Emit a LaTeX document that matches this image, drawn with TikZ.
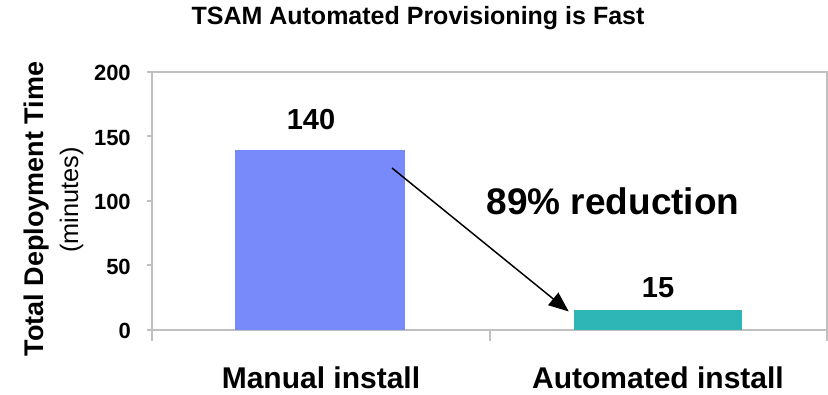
\documentclass[tikz,border=0pt]{standalone}
\usepackage{fontspec}
\setmainfont{Liberation Sans}
\usepackage{xcolor}
\usepackage{tikz}
\usetikzlibrary{arrows.meta,positioning}
\definecolor{manualblue}{RGB}{120,137,250}
\definecolor{autoteal}{RGB}{46,181,181}
\definecolor{axisgray}{RGB}{192,192,192}
\tikzset{
  axisline/.style={draw=axisgray, line width=1.5pt},
  bar/.style={rectangle, inner sep=0pt, anchor=south, draw=none},
  ticklabel/.style={anchor=east, inner sep=0pt, font=\fontsize{16.5pt}{18pt}\selectfont\bfseries},
  valuelabel/.style={anchor=base, inner sep=0pt, font=\fontsize{21.75pt}{24pt}\selectfont\bfseries},
  catlabel/.style={anchor=base, inner sep=0pt, font=\fontsize{22.5pt}{26pt}\selectfont\bfseries}
}
\begin{document}
\begin{tikzpicture}[x=0.75pt, y=-0.75pt]
        \useasboundingbox (0,0) rectangle (828,395);
        % Title
        \node[anchor=base, inner sep=0pt, font=\fontsize{18.75pt}{22pt}\selectfont\bfseries] (title) at (418,25) {TSAM Automated Provisioning is Fast};

        % Frame and axes
        \draw[axisline] (147,72) -- (827,72) -- (827,341);
        \draw[axisline] (152,72) -- (152,341);
        \draw[axisline] (147,330) -- (827,330);
        \foreach \v/\y in {0/330, 50/265.5, 100/201, 150/136.5, 200/72} {
            \draw[axisline] (147,\y) -- (152,\y);
            \node[ticklabel] (tick\v) at (131,\y+1) {\v};
        }
        \foreach \x in {152, 490, 827}
            \draw[axisline] (\x,330) -- (\x,341);

        % Axis title
        \node[anchor=base, rotate=90, inner sep=0pt, font=\fontsize{20.25pt}{24pt}\selectfont\bfseries] (ytitle) at (43,209) {Total Deployment Time};
        \node[anchor=base, rotate=90, inner sep=0pt, font=\fontsize{19pt}{22pt}\selectfont] (yunit) at (78,200) {(minutes)};

        % Bars
        \node[bar, fill=manualblue, minimum width=127.5pt, minimum height=135pt] (manual) at (320,330) {};
        \node[bar, fill=autoteal, minimum width=126pt, minimum height=15pt] (automated) at (658,330) {};

        % Values
        \node[valuelabel] (manualval) at (311,130) {140};
        \node[valuelabel] (autoval) at (658,297) {15};

        % Reduction arrow
        \coordinate (arrowstart) at (392,168);
        \coordinate (arrowend) at ([xshift=-3.75pt,yshift=-1.5pt]automated.north west);
        \draw[-{Triangle[length=15pt, width=12pt]}, line width=1.1pt, black] (arrowstart) -- (arrowend);
        \node[anchor=base, inner sep=0pt, font=\fontsize{27.75pt}{32pt}\selectfont\bfseries] (reduction) at (613,215) {89\% reduction};

        % Category labels
        \node[catlabel] (manualcat) at (321,388) {Manual install};
        \node[catlabel] (autocat) at (658,388) {Automated install};
    \end{tikzpicture}
\end{document}
